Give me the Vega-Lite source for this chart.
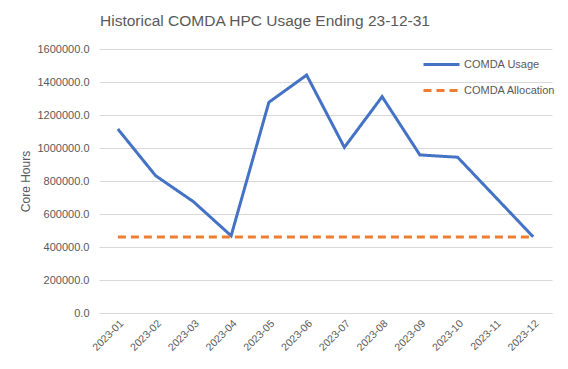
{
  "$schema": "https://vega.github.io/schema/vega-lite/v6.json",
  "width": 453,
  "height": 264,
  "autosize": {"type": "none"},
  "padding": {"left": 99, "top": 49, "right": 16, "bottom": 56},
  "background": "white",
  "title": {
    "text": "Historical COMDA HPC Usage Ending 23-12-31",
    "anchor": "start",
    "frame": "group",
    "dx": 1,
    "offset": 14,
    "fontSize": 15.5,
    "font": "Liberation Sans",
    "fontWeight": "normal",
    "color": "#595959"
  },
  "config": {
    "view": {"stroke": null},
    "font": "Liberation Sans"
  },
  "data": {
    "values": [
      {"month": "2023-01", "series": "COMDA Usage", "value": 1115000},
      {"month": "2023-02", "series": "COMDA Usage", "value": 832000},
      {"month": "2023-03", "series": "COMDA Usage", "value": 675000},
      {"month": "2023-04", "series": "COMDA Usage", "value": 468000},
      {"month": "2023-05", "series": "COMDA Usage", "value": 1277000},
      {"month": "2023-06", "series": "COMDA Usage", "value": 1442000},
      {"month": "2023-07", "series": "COMDA Usage", "value": 1004000},
      {"month": "2023-08", "series": "COMDA Usage", "value": 1311000},
      {"month": "2023-09", "series": "COMDA Usage", "value": 958000},
      {"month": "2023-10", "series": "COMDA Usage", "value": 944000},
      {"month": "2023-11", "series": "COMDA Usage", "value": 703000},
      {"month": "2023-12", "series": "COMDA Usage", "value": 462000},
      {"month": "2023-01", "series": "COMDA Allocation", "value": 460000},
      {"month": "2023-02", "series": "COMDA Allocation", "value": 460000},
      {"month": "2023-03", "series": "COMDA Allocation", "value": 460000},
      {"month": "2023-04", "series": "COMDA Allocation", "value": 460000},
      {"month": "2023-05", "series": "COMDA Allocation", "value": 460000},
      {"month": "2023-06", "series": "COMDA Allocation", "value": 460000},
      {"month": "2023-07", "series": "COMDA Allocation", "value": 460000},
      {"month": "2023-08", "series": "COMDA Allocation", "value": 460000},
      {"month": "2023-09", "series": "COMDA Allocation", "value": 460000},
      {"month": "2023-10", "series": "COMDA Allocation", "value": 460000},
      {"month": "2023-11", "series": "COMDA Allocation", "value": 460000},
      {"month": "2023-12", "series": "COMDA Allocation", "value": 460000}
    ]
  },
  "mark": {"type": "line", "strokeWidth": 3},
  "encoding": {
    "x": {
      "field": "month",
      "type": "ordinal",
      "scale": {"type": "point", "padding": 0.5},
      "axis": {
        "title": null,
        "labelAngle": -45,
        "labelFontSize": 10.5,
        "labelColor": "#595959",
        "labelPadding": 5,
        "ticks": false,
        "domainColor": "#d9d9d9",
        "grid": false
      }
    },
    "y": {
      "field": "value",
      "type": "quantitative",
      "scale": {"domain": [0, 1600000], "nice": false},
      "axis": {
        "title": "Core Hours",
        "titleFontSize": 12,
        "titleFontWeight": "normal",
        "titleColor": "#595959",
        "titleX": -74,
        "titleY": 132,
        "titleAngle": -90,
        "titleAlign": "center",
        "titleBaseline": "middle",
        "values": [0, 200000, 400000, 600000, 800000, 1000000, 1200000, 1400000, 1600000],
        "format": ".1f",
        "labelFontSize": 11,
        "labelColor": "#595959",
        "labelPadding": 10,
        "ticks": false,
        "domain": false,
        "gridColor": "#d9d9d9"
      }
    },
    "stroke": {
      "field": "series",
      "type": "nominal",
      "scale": {"domain": ["COMDA Usage", "COMDA Allocation"], "range": ["#4472C4", "#ED7D31"]},
      "legend": {
        "title": null,
        "orient": "none",
        "legendX": 323,
        "legendY": -4,
        "symbolType": "stroke",
        "symbolSize": 1296,
        "symbolStrokeWidth": 3,
        "labelFontSize": 11,
        "labelColor": "#595959",
        "labelOffset": 3,
        "rowPadding": -10
      }
    },
    "strokeDash": {
      "field": "series",
      "type": "nominal",
      "scale": {"domain": ["COMDA Usage", "COMDA Allocation"], "range": [[1, 0], [8, 5]]},
      "legend": null
    }
  }
}
